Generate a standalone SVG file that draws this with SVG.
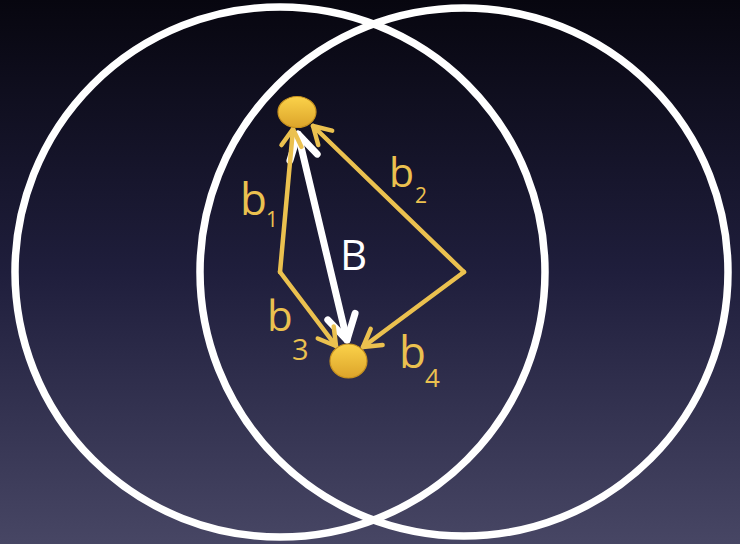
<svg xmlns="http://www.w3.org/2000/svg" width="740" height="544" viewBox="0 0 740 544">
<defs>
<linearGradient id="bg" x1="0" y1="0" x2="0" y2="1">
<stop offset="0" stop-color="#07060f"/>
<stop offset="0.5" stop-color="#1f1e3c"/>
<stop offset="1" stop-color="#474664"/>
</linearGradient>
<linearGradient id="dot" x1="0" y1="0" x2="0" y2="1">
<stop offset="0" stop-color="#fbd24a"/>
<stop offset="1" stop-color="#dca42a"/>
</linearGradient>
<marker id="ay" markerUnits="userSpaceOnUse" markerWidth="40" markerHeight="40" viewBox="-30 -20 40 40" refX="0" refY="0" orient="auto">
<path d="M-17,-10 L0,0 L-17,10" fill="none" stroke="#ebc14f" stroke-width="4.5" stroke-linecap="round" stroke-linejoin="round"/>
</marker>
<marker id="aw" markerUnits="userSpaceOnUse" markerWidth="60" markerHeight="60" viewBox="-40 -30 60 60" refX="0" refY="0" orient="auto-start-reverse">
<path d="M-24,-14 L0,0 L-24,14" fill="none" stroke="#ffffff" stroke-width="7" stroke-linecap="round" stroke-linejoin="round"/>
</marker>
<style>
.circ{fill:none;stroke:#ffffff;stroke-width:7.5}
.yl{fill:none;stroke:#ebc14f;stroke-width:4.5;stroke-linecap:round;stroke-linejoin:round}
.lbl{font-family:"Open Sans","Noto Sans",sans-serif;fill:#ebc14f}
.dot{fill:url(#dot);stroke:#c8921f;stroke-width:1.2}
</style>
</defs>
<rect x="0" y="0" width="740" height="544" fill="url(#bg)"/>
<g id="circle-left"><circle class="circ" cx="280" cy="272" r="265"/></g>
<g id="circle-right"><circle class="circ" cx="464" cy="272" r="264"/></g>
<g id="connectors">
<line x1="298" y1="134" x2="347" y2="340" stroke="#ffffff" stroke-width="7" stroke-linecap="round" marker-start="url(#aw)" marker-end="url(#aw)"/>
<polyline class="yl" points="280,272 293,129" marker-end="url(#ay)"/>
<polyline class="yl" points="280,272 336,346" marker-end="url(#ay)"/>
<polyline class="yl" points="464,272 313,126" marker-end="url(#ay)"/>
<polyline class="yl" points="464,272 363,347" marker-end="url(#ay)"/>
</g>
<g id="node-top"><ellipse class="dot" cx="297" cy="112" rx="19" ry="15.5"/></g>
<g id="node-bottom"><ellipse class="dot" cx="348.5" cy="361" rx="18.5" ry="17"/></g>
<g id="label-b1"><text class="lbl" x="240" y="215" font-size="44">b</text><text class="lbl" x="266" y="227" font-size="21">1</text></g>
<g id="label-b2"><text class="lbl" x="389" y="187" font-size="41">b</text><text class="lbl" x="415" y="203" font-size="21">2</text></g>
<g id="label-b3"><text class="lbl" x="267" y="331" font-size="42">b</text><text class="lbl" x="292" y="360" font-size="29">3</text></g>
<g id="label-b4"><text class="lbl" x="399" y="368" font-size="44">b</text><text class="lbl" x="425" y="387" font-size="26">4</text></g>
<g id="label-B"><text x="340" y="270" font-family="Open Sans, Noto Sans, sans-serif" font-size="42" fill="#ffffff">B</text></g>
</svg>
